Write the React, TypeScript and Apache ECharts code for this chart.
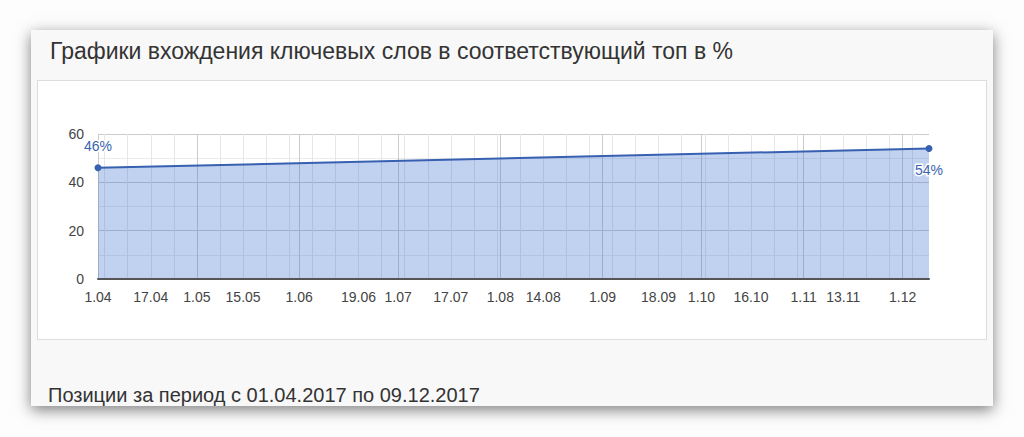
import React, { useEffect, useRef } from 'react';
import * as echarts from 'echarts';

// Data
const POINT_DATES = ['2017-04-01', '2017-12-09'];
const POINT_VALUES = [46, 54];

const LABEL_DATES = [
  '2017-04-01', '2017-04-17', '2017-05-01', '2017-05-15', '2017-06-01', '2017-06-19',
  '2017-07-01', '2017-07-17', '2017-08-01', '2017-08-14', '2017-09-01', '2017-09-18',
  '2017-10-01', '2017-10-16', '2017-11-01', '2017-11-13', '2017-12-01',
];

// month starts get the darker gridline
const MONTH_LINES = [
  '2017-04-01', '2017-05-01', '2017-06-01', '2017-07-01', '2017-08-01',
  '2017-09-01', '2017-10-01', '2017-11-01', '2017-12-01',
];

// weekly (Monday) gridlines
const WEEK_LINES = [
  '2017-04-03', '2017-04-10', '2017-04-17', '2017-04-24',
  '2017-05-08', '2017-05-15', '2017-05-22', '2017-05-29',
  '2017-06-05', '2017-06-12', '2017-06-19', '2017-06-26',
  '2017-07-03', '2017-07-10', '2017-07-17', '2017-07-24', '2017-07-31',
  '2017-08-07', '2017-08-14', '2017-08-21', '2017-08-28',
  '2017-09-04', '2017-09-11', '2017-09-18', '2017-09-25',
  '2017-10-02', '2017-10-09', '2017-10-16', '2017-10-23', '2017-10-30',
  '2017-11-06', '2017-11-13', '2017-11-20', '2017-11-27',
  '2017-12-04',
];

const AXIS_START = '2017-04-01';
const AXIS_END = '2017-12-09';
const Y_MIN = 0;
const Y_MAX = 60;
const Y_STEP = 20;

const TITLE = 'Графики вхождения ключевых слов в соответствующий топ в %';
const FOOTER = 'Позиции за период с 01.04.2017 по 09.12.2017';

const FONT = '"Liberation Sans", Arial, sans-serif';

const parse = (s: string) => s.split('-').map(Number);

// days since AXIS_START (UTC based, so no DST drift)
const dayOf = (s: string) => {
  const [y, m, d] = parse(s);
  const [y0, m0, d0] = parse(AXIS_START);
  return Math.round((Date.UTC(y, m - 1, d) - Date.UTC(y0, m0 - 1, d0)) / 86400000);
};

const fmtDay = (v: number) => {
  const [y0, m0, d0] = parse(AXIS_START);
  const d = new Date(Date.UTC(y0, m0 - 1, d0 + Math.round(v)));
  const m = d.getUTCMonth() + 1;
  return `${d.getUTCDate()}.${m < 10 ? '0' + m : m}`;
};

const KeywordChart: React.FC = () => {
  const chartRef = useRef<HTMLDivElement>(null);

  useEffect(() => {
    if (!chartRef.current) return;
    const chart = echarts.init(chartRef.current, undefined, { renderer: 'svg' });

    const points = POINT_DATES.map((d, i) => ({
      value: [dayOf(d), POINT_VALUES[i]],
      label: i === 0
        ? { position: 'top', distance: 11 }
        : { position: 'bottom', distance: 11 },
    }));

    const gridLines = [
      ...WEEK_LINES.map((d) => ({ xAxis: dayOf(d), lineStyle: { color: '#e6e6e6' } })),
      ...MONTH_LINES.map((d) => ({ xAxis: dayOf(d), lineStyle: { color: '#cccccc' } })),
    ];

    const option: echarts.EChartsOption = {
      animation: false,
      backgroundColor: '#ffffff',
      textStyle: { fontFamily: FONT },
      grid: { left: 61, right: 58, top: 54, bottom: 61 },
      xAxis: {
        type: 'value',
        z: 4,
        min: dayOf(AXIS_START),
        max: dayOf(AXIS_END),
        axisLine: { show: true, onZero: false, lineStyle: { color: '#555555', width: 2 } },
        axisTick: { show: false },
        splitLine: { show: false },
        axisLabel: {
          customValues: LABEL_DATES.map(dayOf),
          formatter: (v: number) => fmtDay(v),
          color: '#444444',
          fontSize: 14,
          fontFamily: FONT,
          margin: 11,
          hideOverlap: false,
        },
      } as any,
      yAxis: {
        type: 'value',
        min: Y_MIN,
        max: Y_MAX,
        interval: Y_STEP,
        axisLine: { show: false },
        axisTick: { show: false },
        axisLabel: { color: '#444444', fontSize: 14, fontFamily: FONT, margin: 14 },
        splitLine: { lineStyle: { color: '#cccccc' } },
        minorTick: { show: false, splitNumber: 2 },
        minorSplitLine: { show: true, lineStyle: { color: '#ebebeb' } },
      },
      series: [
        {
          // carries the vertical gridlines, drawn under the area
          name: 'grid',
          type: 'line',
          z: 1,
          silent: true,
          data: points.map((p) => p.value),
          symbol: 'none',
          lineStyle: { opacity: 0 },
          markLine: {
            z: 1,
            silent: true,
            symbol: ['none', 'none'],
            label: { show: false },
            lineStyle: { type: 'solid', width: 1 },
            emphasis: { disabled: true },
            data: gridLines,
          },
        } as any,
        {
          name: 'top',
          type: 'line',
          z: 3,
          data: points,
          symbol: 'circle',
          symbolSize: 7,
          showAllSymbol: true,
          lineStyle: { color: '#3760b0', width: 2 },
          itemStyle: { color: '#3760b0' },
          areaStyle: { color: '#3366cc', opacity: 0.3 },
          label: {
            show: true,
            formatter: (p: any) => `${p.value[1]}%`,
            color: '#3b64b0',
            fontSize: 14,
            fontFamily: FONT,
            textBorderColor: '#ffffff',
            textBorderWidth: 3,
          },
        },
      ],
    };

    chart.setOption(option);
    return () => chart.dispose();
  }, []);

  return <div ref={chartRef} style={{ width: 950, height: 260 }} />;
};

export default function App() {
  return (
    <div
      style={{
        position: 'absolute',
        left: 0,
        top: 0,
        width: 1024,
        height: 437,
        background: '#fdfdfd',
        overflow: 'hidden',
        fontFamily: FONT,
      }}
    >
      <div
        style={{
          position: 'absolute',
          left: 31,
          top: 30,
          width: 962,
          height: 376,
          background: '#f8f8f8',
          boxShadow: '0 4px 14px rgba(0,0,0,0.5)',
          overflow: 'hidden',
        }}
      >
        <div
          style={{
            position: 'absolute',
            left: 19,
            top: 10,
            fontSize: 23,
            lineHeight: '23px',
            color: '#333333',
            whiteSpace: 'nowrap',
          }}
        >
          {TITLE}
        </div>
        <div
          style={{
            position: 'absolute',
            left: 6,
            top: 50,
            width: 950,
            height: 260,
            border: '1px solid #dddddd',
            boxSizing: 'border-box',
            overflow: 'hidden',
          }}
        >
          <div style={{ position: 'absolute', left: -1, top: -1 }}>
            <KeywordChart />
          </div>
        </div>
        <div
          style={{
            position: 'absolute',
            left: 17,
            top: 355,
            fontSize: 20,
            lineHeight: '20px',
            color: '#333333',
            whiteSpace: 'nowrap',
          }}
        >
          {FOOTER}
        </div>
      </div>
    </div>
  );
}
